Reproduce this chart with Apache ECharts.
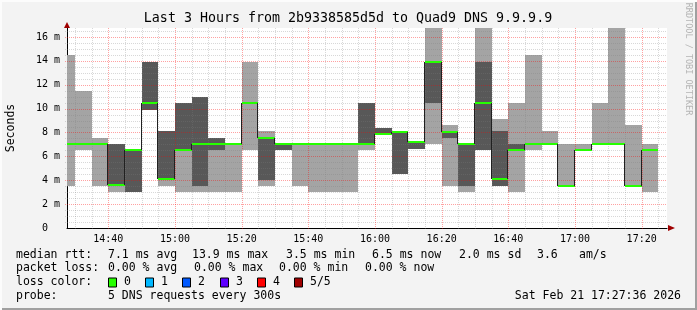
<!DOCTYPE html>
<html><head><meta charset="utf-8">
<script src="https://cdn.jsdelivr.net/npm/echarts@6/dist/echarts.min.js"></script>
<style>html,body{margin:0;padding:0;background:#f3f3f3}#c{width:697px;height:310px}</style>
</head><body><div id="c"></div>
<script>
// ---- data (5-minute steps, 5 DNS requests each, milliseconds) ----
const stepTimes = ['14:25','14:30','14:35','14:40','14:45','14:50','14:55','15:00','15:05','15:10','15:15','15:20','15:25','15:30','15:35','15:40','15:45','15:50','15:55','16:00','16:05','16:10','16:15','16:20','16:25','16:30','16:35','16:40','16:45','16:50','16:55','17:00','17:05','17:10','17:15','17:20'];
const pingMin    = [3.5,6.5,3.5,3.0,3.0,9.9,3.5,3.0,3.0,3.0,3.0,6.5,3.5,6.5,3.5,3.0,3.0,3.0,6.5,7.9,4.5,6.6,7.0,3.5,3.0,6.5,3.5,3.0,6.5,7.0,3.5,6.5,7.0,7.0,3.5,3.0];
const pingLow    = [7.0,7.0,7.0,3.5,3.0,9.9,4.0,6.5,3.5,6.5,7.0,10.5,4.0,6.5,7.0,7.0,7.0,7.0,7.0,7.9,4.5,6.6,10.5,7.5,3.5,6.5,3.5,6.5,7.0,7.0,3.5,6.5,7.0,7.0,3.5,6.5];
const pingMedian = [7.0,7.0,7.0,3.6,6.5,10.5,4.1,6.5,7.0,7.0,7.0,10.5,7.5,7.0,7.0,7.0,7.0,7.0,7.0,7.9,8.0,7.2,13.9,8.0,7.0,10.5,4.1,6.5,7.0,7.0,3.5,6.5,7.0,7.0,3.5,6.5];
const pingHigh   = [7.0,7.0,7.0,7.0,6.5,13.9,8.1,10.5,11.0,7.5,7.0,10.5,7.5,7.0,7.0,7.0,7.0,7.0,10.5,8.4,8.0,7.2,13.9,8.0,7.0,13.9,8.1,7.0,7.0,7.0,3.5,6.5,7.0,7.0,3.5,6.5];
const pingMax    = [14.5,11.5,7.5,7.0,6.5,13.9,8.1,10.5,11.0,7.5,7.0,13.9,8.1,7.0,7.0,7.0,7.0,7.0,10.5,8.4,8.0,7.2,16.8,8.6,7.0,16.8,9.1,10.5,14.5,8.1,7.0,7.0,10.5,16.8,8.6,7.0];
const xTickLabels = ['14:40','15:00','15:20','15:40','16:00','16:20','16:40','17:00','17:20'];
const yTickValues = [0,2,4,6,8,10,12,14,16];
const axisStart = '14:27:36', axisEnd = '17:27:36';
const stepMinutes = 5;
const yMax = 16.75;

function toMin(s){const p=s.split(':').map(Number);return p[0]*60+p[1]+(p[2]||0)/60;}
const xMin = toMin(axisStart), xMax = toMin(axisEnd);
function fmtMin(v){const h=Math.floor(v/60),m=Math.round(v-h*60);return h+':'+(m<10?'0':'')+m;}

const steps = stepTimes.map((t,i)=>[toMin(t), toMin(t)+stepMinutes, pingMin[i], pingLow[i], pingMedian[i], pingHigh[i], pingMax[i]]);

// grid lines
const xMajor = xTickLabels.map(toMin);
const xMinor = []; for (let v=Math.ceil(xMin/5)*5; v<xMax; v+=5) if (!xMajor.includes(v)) xMinor.push(v);
const yMajor = yTickValues.filter(v=>v>0);
const yMinor = []; for (let v=0.5; v<yMax; v+=0.5) if (v%2!==0) yMinor.push(v);

const MONO = '"DejaVu Sans Mono", monospace';
const chart = echarts.init(document.getElementById('c'));

function clipRect(r, cs){
  return echarts.graphic.clipRectByRect(r,{x:cs.x,y:cs.y,width:cs.width,height:cs.height});
}
function bandRender(loIdx, hiIdx, color){
  return function(params, api){
    const a = api.coord([api.value(0), api.value(hiIdx)]);
    const b = api.coord([api.value(1), api.value(loIdx)]);
    const x0=Math.round(a[0]), x1=Math.round(b[0]), y0=Math.round(a[1]), y1=Math.round(b[1]);
    if (y1-y0<=0) return null;
    const r = clipRect({x:x0,y:y0,width:x1-x0,height:y1-y0}, params.coordSys);
    if (!r) return null;
    return {type:'rect', shape:r, style:{fill:color}};
  };
}
function medianRender(params, api){
  const cs = params.coordSys;
  const i = params.dataIndex;
  const p = api.coord([api.value(0), api.value(4)]);
  const q = api.coord([api.value(1), api.value(4)]);
  let x0=Math.max(Math.round(p[0]), cs.x), x1=Math.round(q[0]);
  const y=Math.round(p[1]);
  const children=[];
  if (i>0 && x0>cs.x){
    const prev = api.coord([api.value(0), pingMedian[i-1]]);
    const py=Math.round(prev[1]);
    if (py!==y) children.push({type:'line', shape:{x1:x0-0.5,y1:Math.min(py,y),x2:x0-0.5,y2:Math.max(py,y)}, style:{stroke:'#202020',lineWidth:1}});
  }
  children.push({type:'rect', shape:{x:x0,y:y-1,width:x1-x0,height:2}, style:{fill:'#26ff00'}});
  return {type:'group', children};
}
function vLineRender(color, dash){
  return function(params, api){
    const cs=params.coordSys; const x=Math.round(api.coord([api.value(0),0])[0])+0.5;
    return {type:'line', shape:{x1:x,y1:cs.y,x2:x,y2:cs.y+cs.height+2}, style:{stroke:color,lineWidth:1,lineDash:dash}};
  };
}
function hLineRender(color, dash){
  return function(params, api){
    const cs=params.coordSys; const y=Math.round(api.coord([xMin,api.value(1)])[1])+0.5;
    return {type:'line', shape:{x1:cs.x-2,y1:y,x2:cs.x+cs.width,y2:y}, style:{stroke:color,lineWidth:1,lineDash:dash}};
  };
}
const GRAY='rgba(127,127,127,0.3)', RED='rgba(255,0,0,0.37)';

const lgY=[255,268.5,282.5,296];
function txt(x,y,s,extra){return Object.assign({type:'text',x:x,y:y,style:{text:s,font:'11.5px '+MONO,fill:'#000',textVerticalAlign:'middle'}},extra||{});}
const lossColors=[['0','#26ff00'],['1','#00b8ff'],['2','#0059ff'],['3','#5e00ff'],['4','#ff0000'],['5/5','#a00000']];
const boxX=[108,145,182,220,257,294];
const graphics=[
  {type:'rect',shape:{x:0,y:0,width:697,height:310},style:{fill:'#f3f3f3'},z:-10},
  {type:'rect',shape:{x:0,y:308,width:697,height:2},style:{fill:'#a0a0a0'}},
  {type:'rect',shape:{x:695,y:0,width:2,height:310},style:{fill:'#a0a0a0'}},
  {type:'rect',shape:{x:0,y:0,width:697,height:2},style:{fill:'#fcfcfc'}},
  {type:'rect',shape:{x:0,y:0,width:2,height:310},style:{fill:'#fcfcfc'}},
  {type:'text',x:348,y:19,style:{text:'Last 3 Hours from 2b9338585d5d to Quad9 DNS 9.9.9.9',font:'13.3px '+MONO,fill:'#000',textAlign:'center',textVerticalAlign:'middle'}},
  {type:'text',x:11,y:128,rotation:Math.PI/2,style:{text:'Seconds',font:'11.5px '+MONO,fill:'#000',textAlign:'center',textVerticalAlign:'middle'}},
  {type:'text',x:688,y:59,rotation:-Math.PI/2,style:{text:'RRDTOOL / TOBI OETIKER',font:'8.5px '+MONO,fill:'#b4b4b4',textAlign:'center',textVerticalAlign:'middle'}},
  {type:'polygon',shape:{points:[[64,28],[70,28],[67,22]]},style:{fill:'#a00000'},z:50},
  {type:'polygon',shape:{points:[[668,225],[668,231],[675,228]]},style:{fill:'#a00000'},z:50},
  txt(16,lgY[0],'median rtt:'), txt(108,lgY[0],'7.1 ms avg'), txt(192,lgY[0],'13.9 ms max'), txt(286,lgY[0],'3.5 ms min'),
  txt(372,lgY[0],'6.5 ms now'), txt(459,lgY[0],'2.0 ms sd'), txt(537,lgY[0],'3.6'), txt(579,lgY[0],'am/s'),
  txt(16,lgY[1],'packet loss:'), txt(108,lgY[1],'0.00 % avg'), txt(194,lgY[1],'0.00 % max'), txt(279,lgY[1],'0.00 % min'), txt(365,lgY[1],'0.00 % now'),
  txt(16,lgY[2],'loss color:'),
  txt(16,lgY[3],'probe:'), txt(108,lgY[3],'5 DNS requests every 300s'),
  txt(681,lgY[3],'Sat Feb 21 17:27:36 2026',{style:{text:'Sat Feb 21 17:27:36 2026',font:'11.5px '+MONO,fill:'#000',textAlign:'right',textVerticalAlign:'middle'}})
];
lossColors.forEach((c,i)=>{
  graphics.push({type:'rect',shape:{x:boxX[i]+0.5,y:lgY[2]-4.5,width:8,height:9},style:{fill:c[1],stroke:'#000',lineWidth:1}});
  graphics.push(txt(boxX[i]+16,lgY[2],c[0]));
});

chart.setOption({
  animation:false,
  backgroundColor:'#f3f3f3',
  grid:{left:67,top:28,width:600,height:200,show:true,backgroundColor:'#ffffff',borderWidth:0},
  xAxis:{type:'value',min:xMin,max:xMax,
    axisLine:{show:true,onZero:false,lineStyle:{color:'#000',width:1}},
    axisTick:{show:false,customValues:xMajor},
    axisLabel:{customValues:xMajor,formatter:fmtMin,margin:6,color:'#000',fontFamily:'DejaVu Sans Mono',fontSize:10},
    splitLine:{show:false}},
  yAxis:{type:'value',min:0,max:yMax,
    axisLine:{show:true,lineStyle:{color:'#000',width:1}},
    axisTick:{show:false,customValues:yTickValues},
    axisLabel:{customValues:yTickValues,formatter:v=>v===0?'0  ':v+' m',margin:7,color:'#000',fontFamily:'DejaVu Sans Mono',fontSize:10},
    splitLine:{show:false}},
  graphic:graphics,
  series:[
    {type:'custom',z:1,renderItem:bandRender(2,6,'#a4a4a4'),data:steps,encode:{x:[0,1],y:[2,6]},silent:true},
    {type:'custom',z:2,renderItem:bandRender(3,5,'#585858'),data:steps,encode:{x:[0,1],y:[3,5]},silent:true},
    {type:'custom',z:3,renderItem:vLineRender(GRAY,[1,1]),data:xMinor.map(v=>[v,0]),encode:{x:0,y:1},silent:true},
    {type:'custom',z:3,renderItem:hLineRender(GRAY,[1,1]),data:yMinor.map(v=>[xMin,v]),encode:{x:0,y:1},silent:true},
    {type:'custom',z:3,renderItem:vLineRender(RED,[1,1]),data:xMajor.map(v=>[v,0]),encode:{x:0,y:1},silent:true},
    {type:'custom',z:3,renderItem:hLineRender(RED,[1,1]),data:yMajor.map(v=>[xMin,v]),encode:{x:0,y:1},silent:true},
    {type:'custom',z:4,renderItem:medianRender,data:steps,encode:{x:[0,1],y:4},silent:true}
  ]
});
</script></body></html>
